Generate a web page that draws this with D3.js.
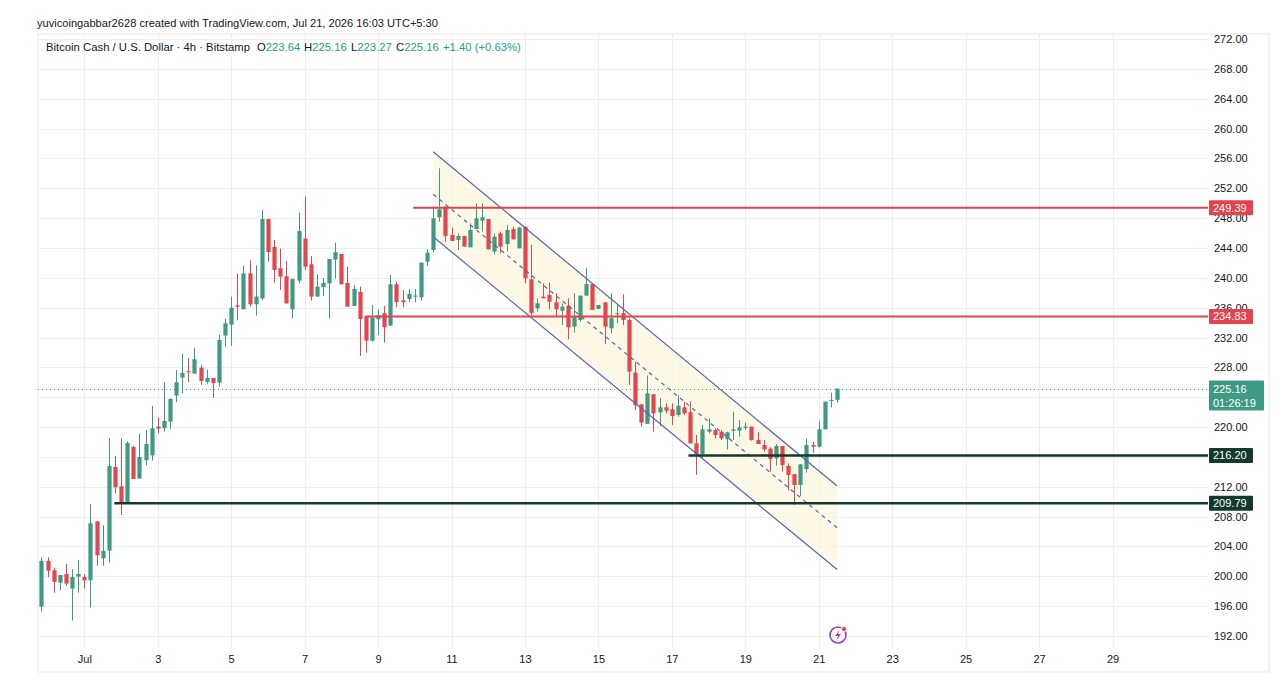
<!DOCTYPE html>
<html>
<head>
<meta charset="utf-8">
<script src="https://cdn.jsdelivr.net/npm/d3@7"></script>
<style>
html, body { margin: 0; padding: 0; background: #fff; }
svg { display: block; font-family: "Liberation Sans", Arial, sans-serif; }
</style>
</head>
<body>
<script>
// BCH/USD 4h candles, first bar Jun 29 20:00 UTC
const firstBar = Date.UTC(2026, 5, 29, 20);
const BAR_MS = 4 * 3600 * 1000;

const opens = [195.94, 202.06, 200.80, 199.15, 200.31, 198.35, 199.96, 199.91, 199.47, 207.37,
    202.42, 203.44, 214.65, 212.06, 209.78, 217.33, 213.10, 215.55, 216.20, 220.06,
    219.84, 220.73, 224.21, 226.62, 227.47, 227.16, 227.96, 226.04, 226.58, 225.95,
    232.25, 233.73, 236.31, 235.78, 240.60, 236.45, 237.25, 247.88, 244.13, 241.27,
    240.20, 235.78, 239.62, 245.25, 241.81, 237.48, 238.77, 239.26, 242.44, 243.20,
    239.31, 236.23, 238.10, 234.80, 231.58, 234.44, 235.25, 233.59, 239.13, 236.99,
    237.16, 237.48, 237.39, 242.17, 243.73, 248.11, 249.54, 245.74, 245.07, 245.61,
    244.09, 246.54, 247.66, 247.88, 243.51, 245.96, 244.54, 246.54, 243.95, 246.85,
    239.80, 235.91, 237.47, 237.70, 236.72, 235.60, 236.27, 233.46, 234.35, 237.61,
    239.17, 235.83, 236.72, 233.23, 235.16, 235.25, 234.35, 227.29, 223.05, 220.42,
    224.39, 221.97, 222.64, 222.38, 221.62, 222.64, 221.97, 217.82, 216.39, 219.38,
    219.60, 219.38, 218.36, 219.51, 219.52, 219.87, 220.05, 218.27, 217.60, 217.11,
    215.81, 217.46, 214.78, 213.67, 212.24, 214.38, 217.60, 217.37, 219.70, 223.60,
    223.64];
const highs = [202.55, 202.55, 201.16, 200.18, 201.65, 200.94, 202.15, 200.32, 209.70, 207.37,
    206.84, 218.49, 216.13, 218.49, 218.09, 217.51, 219.07, 219.60, 222.83, 221.31,
    226.00, 223.85, 227.65, 229.84, 229.21, 230.60, 228.32, 227.69, 226.58, 232.34,
    234.48, 237.48, 240.60, 241.67, 242.35, 241.67, 249.09, 247.88, 245.07, 243.91,
    242.26, 239.85, 248.73, 250.88, 242.93, 240.47, 239.98, 242.52, 244.71, 243.20,
    241.45, 239.04, 238.82, 234.80, 236.36, 235.78, 236.23, 240.38, 239.49, 238.37,
    238.50, 238.50, 242.03, 243.82, 249.54, 254.67, 249.54, 246.72, 245.96, 245.61,
    247.30, 249.98, 249.98, 247.88, 245.96, 246.19, 247.08, 246.85, 246.85, 246.85,
    244.40, 237.25, 239.26, 239.35, 237.92, 236.58, 237.25, 237.92, 237.61, 241.30,
    239.17, 236.36, 236.72, 237.92, 236.36, 237.79, 234.58, 228.77, 223.05, 226.90,
    224.39, 223.85, 223.18, 223.18, 224.30, 223.40, 223.40, 218.94, 220.28, 221.17,
    219.83, 219.60, 219.38, 222.06, 220.95, 220.59, 220.05, 219.34, 218.27, 217.28,
    217.73, 217.46, 215.14, 213.67, 215.00, 218.49, 218.04, 220.81, 223.40, 224.61,
    225.16];
const lows = [195.27, 199.87, 197.81, 198.08, 198.71, 194.06, 197.81, 198.35, 195.81, 201.43,
    201.43, 201.84, 211.12, 208.22, 209.78, 213.04, 213.10, 214.87, 215.50, 219.17,
    219.39, 219.70, 223.32, 224.52, 226.00, 227.16, 225.64, 225.82, 223.94, 225.42,
    230.78, 230.87, 234.30, 235.78, 236.13, 234.93, 237.03, 242.17, 239.35, 238.37,
    236.50, 234.53, 239.26, 241.05, 236.94, 237.48, 237.57, 234.53, 239.93, 239.13,
    236.14, 236.23, 229.53, 229.97, 231.45, 232.34, 231.32, 233.59, 236.05, 236.05,
    236.72, 236.72, 236.94, 241.59, 243.40, 247.53, 244.85, 244.94, 243.73, 244.18,
    244.09, 246.54, 246.19, 243.82, 243.15, 243.29, 243.51, 245.07, 243.95, 239.26,
    235.02, 235.47, 237.25, 235.78, 234.80, 233.68, 231.76, 232.65, 234.13, 237.61,
    235.69, 235.83, 231.14, 232.56, 233.90, 233.68, 225.64, 222.29, 220.06, 220.42,
    219.38, 220.14, 221.84, 220.27, 221.39, 221.62, 217.82, 213.58, 215.81, 219.16,
    218.49, 218.27, 217.02, 218.27, 218.71, 219.60, 218.18, 217.73, 216.70, 214.02,
    214.83, 214.02, 211.48, 209.56, 210.76, 213.89, 216.57, 217.28, 219.70, 222.64,
    223.27];
const closes = [202.06, 200.76, 199.24, 200.18, 199.02, 199.91, 200.32, 199.47, 207.10, 202.82,
    203.40, 214.79, 211.93, 209.78, 217.87, 213.04, 215.99, 217.73, 219.83, 219.79,
    220.82, 223.76, 226.00, 227.25, 227.38, 229.08, 226.18, 226.58, 225.91, 231.67,
    233.90, 236.00, 236.13, 240.60, 236.45, 237.48, 247.88, 243.46, 241.05, 240.16,
    236.58, 239.85, 246.28, 241.50, 237.48, 238.82, 239.31, 242.52, 243.42, 239.13,
    236.14, 238.50, 234.48, 231.58, 234.66, 235.02, 233.37, 239.13, 236.76, 236.72,
    237.84, 237.62, 242.03, 243.37, 247.97, 249.18, 245.61, 244.94, 245.61, 244.18,
    246.41, 247.97, 248.11, 243.82, 245.52, 244.18, 246.41, 245.16, 246.72, 239.94,
    235.30, 236.58, 237.25, 236.80, 235.78, 236.14, 233.37, 234.80, 237.61, 239.17,
    235.69, 236.36, 233.46, 234.58, 235.25, 234.35, 227.43, 222.90, 220.60, 224.52,
    221.84, 222.64, 222.20, 221.48, 222.87, 221.84, 217.82, 216.39, 219.70, 219.70,
    218.94, 218.49, 219.29, 219.69, 219.96, 220.05, 218.27, 217.73, 217.02, 215.72,
    217.46, 214.92, 213.58, 212.24, 215.00, 217.60, 217.37, 219.70, 223.40, 223.64,
    225.16];

const yTicks = d3.range(192, 273, 4);

// horizontal levels drawn on the chart
const levelPrices = [249.39, 234.83, 216.20, 209.79];
const levelStarts = ['2026-07-09T23:00Z', '2026-07-08T15:30Z', '2026-07-17T10:50Z', '2026-07-01T19:40Z'];
const levelColors = ['#e2434e', '#e2434e', '#123a2c', '#123a2c'];

// descending parallel channel
const channelTimes = ['2026-07-10T12:00Z', '2026-07-21T12:00Z'];
const channelUpper = [256.9, 212.1];
const channelLower = [245.5, 200.9];

const lastPrice = 225.16;
const countdown = '01:26:19';

const headerText = 'yuvicoingabbar2628 created with TradingView.com, Jul 21, 2026 16:03 UTC+5:30';
const legendParts = [
    { t: 'Bitcoin Cash / U.S. Dollar · 4h · Bitstamp', x: 46, c: 'dark' },
    { t: 'O', x: 257, c: 'dark' }, { t: '223.64', c: 'up' },
    { t: 'H', x: 304, c: 'dark' }, { t: '225.16', c: 'up' },
    { t: 'L', x: 351, c: 'dark' }, { t: '223.27', c: 'up' },
    { t: 'C', x: 396, c: 'dark' }, { t: '225.16', c: 'up' },
    { t: '+1.40 (+0.63%)', x: 443, c: 'up' }
];

const W = 1284, H = 678;
const PL = 38, PR = 1208, PT = 34, PB = 647;
const UP = '#3f9a84', DOWN = '#e2464f', TEXT = '#131722', GRID = '#eceef2';

const candles = opens.map((o, i) => ({
    t: new Date(firstBar + i * BAR_MS), o: o, h: highs[i], l: lows[i], c: closes[i]
}));

const x = d3.scaleUtc()
    .domain([new Date(Date.UTC(2026, 6, 1)), new Date(Date.UTC(2026, 6, 29))])
    .range([84.3, 1112.5]);
const y = d3.scaleLinear().domain([192, 272]).range([636, 39]);

const svg = d3.select('body').append('svg')
    .attr('width', W).attr('height', H);

svg.append('rect').attr('width', W).attr('height', H).attr('fill', '#fff');

// frame
svg.append('rect')
    .attr('x', PL).attr('y', PT).attr('width', 1269 - PL).attr('height', 672 - PT)
    .attr('fill', 'none').attr('stroke', '#e6e8ec');

svg.append('defs').append('clipPath').attr('id', 'plot')
    .append('rect').attr('x', PL).attr('y', PT).attr('width', PR - PL).attr('height', PB - PT);

// grid
const dayTicks = x.ticks(d3.utcDay.every(2));
svg.append('g').selectAll('line').data(yTicks).join('line')
    .attr('x1', PL).attr('x2', PR)
    .attr('y1', d => Math.round(y(d)) + 0.5).attr('y2', d => Math.round(y(d)) + 0.5)
    .attr('stroke', GRID);
svg.append('g').selectAll('line').data(dayTicks).join('line')
    .attr('x1', d => Math.round(x(d)) + 0.5).attr('x2', d => Math.round(x(d)) + 0.5)
    .attr('y1', PT).attr('y2', PB)
    .attr('stroke', GRID);

const plot = svg.append('g').attr('clip-path', 'url(#plot)');

// channel fill
const t0 = new Date(channelTimes[0]), t1 = new Date(channelTimes[1]);
plot.append('path')
    .attr('d', `M${x(t0)},${y(channelUpper[0])}L${x(t1)},${y(channelUpper[1])}` +
        `L${x(t1)},${y(channelLower[1])}L${x(t0)},${y(channelLower[0])}Z`)
    .attr('fill', '#fdf7df').attr('fill-opacity', 0.75);

// last price dotted line
plot.append('line')
    .attr('x1', PL).attr('x2', PR)
    .attr('y1', Math.round(y(lastPrice)) + 0.5).attr('y2', Math.round(y(lastPrice)) + 0.5)
    .attr('stroke', UP).attr('stroke-dasharray', '1,3');

// candles
const bw = 4.2;
const cg = plot.append('g');
cg.selectAll('line').data(candles).join('line')
    .attr('x1', d => Math.round(x(d.t)) + 0.5).attr('x2', d => Math.round(x(d.t)) + 0.5)
    .attr('y1', d => y(d.h)).attr('y2', d => y(d.l))
    .attr('stroke', d => d.c >= d.o ? UP : DOWN).attr('stroke-width', 1);
cg.selectAll('rect').data(candles).join('rect')
    .attr('x', d => Math.round(x(d.t)) + 0.5 - bw / 2)
    .attr('width', bw)
    .attr('y', d => y(Math.max(d.o, d.c)))
    .attr('height', d => Math.max(1, Math.abs(y(d.o) - y(d.c))))
    .attr('fill', d => d.c >= d.o ? UP : DOWN);

// channel borders
const chColor = '#5464b6';
plot.append('line')
    .attr('x1', x(t0)).attr('y1', y(channelUpper[0]))
    .attr('x2', x(t1)).attr('y2', y(channelUpper[1]))
    .attr('stroke', chColor).attr('stroke-width', 1.2);
plot.append('line')
    .attr('x1', x(t0)).attr('y1', y(channelLower[0]))
    .attr('x2', x(t1)).attr('y2', y(channelLower[1]))
    .attr('stroke', chColor).attr('stroke-width', 1.2);
plot.append('line')
    .attr('x1', x(t0)).attr('y1', y((channelUpper[0] + channelLower[0]) / 2))
    .attr('x2', x(t1)).attr('y2', y((channelUpper[1] + channelLower[1]) / 2))
    .attr('stroke', chColor).attr('stroke-width', 1.2).attr('stroke-dasharray', '4,4');

// horizontal levels
levelPrices.forEach((p, i) => {
    plot.append('line')
        .attr('x1', x(new Date(levelStarts[i]))).attr('x2', PR)
        .attr('y1', y(p)).attr('y2', y(p))
        .attr('stroke', levelColors[i]).attr('stroke-width', i < 2 ? 2 : 2.5);
});

// x axis
const xAxis = svg.append('g')
    .attr('transform', `translate(0,${PB})`)
    .call(d3.axisBottom(x).tickValues(dayTicks).tickSize(0).tickPadding(8)
        .tickFormat(d => d.getUTCDate() === 1 ? 'Jul' : d.getUTCDate()));
xAxis.select('.domain').remove();
xAxis.selectAll('text').attr('fill', TEXT).attr('font-size', 11)
    .attr('font-family', '"Liberation Sans", Arial, sans-serif');

// y axis (labels fully covered by a price box are dropped, as on the original)
const boxRanges = levelPrices.map(p => [y(p) - 7.5, y(p) + 7.5])
    .concat([[y(lastPrice) - 8, y(lastPrice) + 22]]);
const shownTicks = yTicks.filter(v => !boxRanges.some(r => y(v) - 4 > r[0] && y(v) + 4 < r[1]));
const yAxis = svg.append('g')
    .attr('transform', `translate(${PR},0)`)
    .call(d3.axisRight(y).tickValues(shownTicks).tickSize(0).tickPadding(6)
        .tickFormat(d3.format('.2f')));
yAxis.select('.domain').remove();
yAxis.selectAll('text').attr('fill', TEXT).attr('font-size', 11)
    .attr('font-family', '"Liberation Sans", Arial, sans-serif');

// price labels on the axis
levelPrices.forEach((p, i) => {
    const cy = y(p);
    svg.append('rect')
        .attr('x', 1209).attr('y', cy - 7.5).attr('width', 44).attr('height', 15)
        .attr('rx', 1).attr('fill', levelColors[i]);
    svg.append('text')
        .attr('x', 1213).attr('y', cy + 4)
        .attr('font-size', 11).attr('fill', '#fff')
        .text(p.toFixed(2));
});
const ly = y(lastPrice);
svg.append('rect')
    .attr('x', 1209).attr('y', ly - 8).attr('width', 55).attr('height', 30)
    .attr('rx', 1).attr('fill', UP);
svg.append('text').attr('x', 1213).attr('y', ly + 4)
    .attr('font-size', 11).attr('fill', '#fff').text(lastPrice.toFixed(2));
svg.append('text').attr('x', 1213).attr('y', ly + 18)
    .attr('font-size', 11).attr('fill', '#fff').text(countdown);

// header + legend
svg.append('text')
    .attr('x', 37).attr('y', 27)
    .attr('font-size', 11.1).attr('fill', TEXT)
    .text(headerText);
const legend = svg.append('text')
    .attr('y', 51).attr('font-size', 11.3).attr('fill', TEXT);
legendParts.forEach(p => {
    const ts = legend.append('tspan').text(p.t)
        .attr('fill', p.c === 'up' ? '#22a08a' : TEXT);
    if (p.x !== undefined) ts.attr('x', p.x);
});

// lightning icon
const icon = svg.append('g').attr('transform', 'translate(838,635)');
icon.append('circle').attr('r', 8).attr('fill', '#fff')
    .attr('stroke', '#9c3cc8').attr('stroke-width', 1.6);
icon.append('path')
    .attr('d', 'M1.5,-5 L-3,1 L0,1 L-1.5,5 L3,-1 L0,-1 Z')
    .attr('fill', '#9c3cc8');
icon.append('circle').attr('cx', 6).attr('cy', -6).attr('r', 2.6)
    .attr('fill', '#f23645').attr('stroke', '#fff').attr('stroke-width', 1);
</script>
</body>
</html>
